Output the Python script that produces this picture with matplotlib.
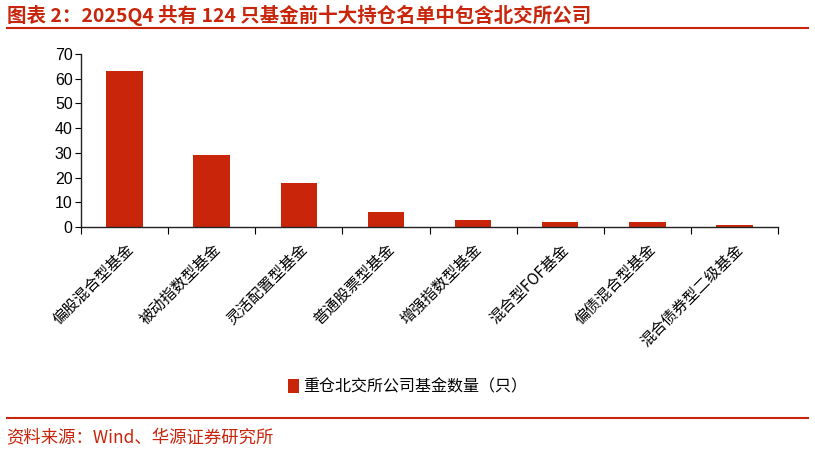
import matplotlib
matplotlib.use("Agg")
import matplotlib.pyplot as plt
from matplotlib.lines import Line2D

plt.rcParams['font.family'] = ['Noto Sans CJK SC', 'DejaVu Sans']

categories = ["偏股混合型基金", "被动指数型基金", "灵活配置型基金", "普通股票型基金",
              "增强指数型基金", "混合型FOF基金", "偏债混合型基金", "混合债券型二级基金"]
values = [63, 29, 18, 6, 3, 2, 2, 1]
yticks = [0, 10, 20, 30, 40, 50, 60, 70]
series_name = "重仓北交所公司基金数量（只）"
title = "图表 2：2025Q4 共有 124 只基金前十大持仓名单中包含北交所公司"
source = "资料来源：Wind、华源证券研究所"

red = "#C8250A"
fig = plt.figure(figsize=(8.15, 4.51), dpi=100)
ax = fig.add_axes([0.0994, 0.4967, 0.8552, 0.3836])
x = range(len(categories))
ax.bar(x, values, width=0.42, color=red, label=series_name)
ax.set_xlim(-0.5, len(categories) - 0.5)
ax.set_ylim(0, 70)
ax.set_yticks(yticks)
ax.set_yticklabels([str(v) for v in yticks], fontfamily='Liberation Sans', fontsize=11.5)
ax.tick_params(axis='y', length=4, direction='out', pad=2)
ax.set_xticks([i + 0.5 for i in range(-1, len(categories))], minor=False)
ax.set_xticklabels([])
ax.tick_params(axis='x', length=5, direction='out')
ax.set_xticks(list(x), minor=True)
ax.set_xticklabels(categories, minor=True, rotation=45, ha='right', va='top',
                   rotation_mode='anchor', fontsize=11)
ax.tick_params(axis='x', which='minor', length=0, pad=10)
for s in ['top', 'right']:
    ax.spines[s].set_visible(False)
for s in ['left', 'bottom']:
    ax.spines[s].set_color('#222222')
    ax.spines[s].set_linewidth(1.0)

fig.legend(loc='center', bbox_to_anchor=(0.5, 1 - 387 / 451), frameon=False,
           fontsize=11.5, handlelength=0.7, handleheight=1.0, handletextpad=0.3)

fig.text(0.008, 1 - 15 / 451, title, fontsize=14, fontweight='bold', color=red,
         va='center', ha='left')
fig.add_artist(Line2D([0.008, 0.992], [1 - 28 / 451] * 2, color=red, lw=1.5,
                      transform=fig.transFigure))
fig.add_artist(Line2D([0.008, 0.992], [1 - 418 / 451] * 2, color=red, lw=1.5,
                      transform=fig.transFigure))
fig.text(0.008, 1 - 437 / 451, source, fontsize=12.5, color=red, va='center', ha='left')

fig.savefig("out.png", dpi=100)
